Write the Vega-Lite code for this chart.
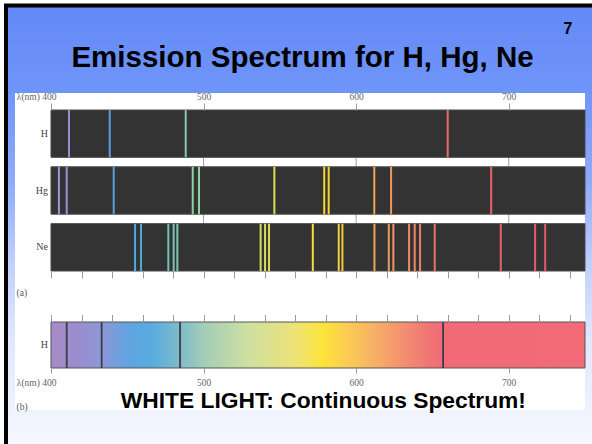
{
  "$schema": "https://vega.github.io/schema/vega-lite/v6.json",
  "width": 586,
  "height": 438.5,
  "padding": {"left": 6, "top": 5.5, "right": 0, "bottom": 0},
  "autosize": {"type": "none"},
  "background": "white",
  "config": {
    "view": {
      "fill": {"gradient": "linear", "x1": 0, "y1": 0, "x2": 0, "y2": 1,
        "stops": [
          {"offset": 0, "color": "#6389f7"},
          {"offset": 0.2, "color": "#7095f9"},
          {"offset": 0.4, "color": "#8eaafb"},
          {"offset": 0.6, "color": "#c3d1fc"},
          {"offset": 0.75, "color": "#dfe7fe"},
          {"offset": 1, "color": "#f6f8ff"}
        ]},
      "stroke": "black",
      "strokeWidth": 4,
      "strokeDash": [586, 1024.5, 438.5]
    },
    "axis": {
      "zindex": 1,
      "grid": false,
      "domain": false,
      "labelFont": "Liberation Serif",
      "labelFontSize": 9.5,
      "labelColor": "#666666",
      "tickColor": "#9a9a9a",
      "tickWidth": 1,
      "labelFlush": false,
      "labelOverlap": false,
      "titleAngle": 0
    }
  },
  "datasets": {
    "linesA": [
      {"element": "H", "nm": 411.8}, {"element": "H", "nm": 438.5}, {"element": "H", "nm": 488.3}, {"element": "H", "nm": 660.0},
      {"element": "Hg", "nm": 405.2}, {"element": "Hg", "nm": 410.3}, {"element": "Hg", "nm": 441.1}, {"element": "Hg", "nm": 492.9},
      {"element": "Hg", "nm": 497.0}, {"element": "Hg", "nm": 546.4}, {"element": "Hg", "nm": 579.1}, {"element": "Hg", "nm": 582.0},
      {"element": "Hg", "nm": 611.9}, {"element": "Hg", "nm": 622.9}, {"element": "Hg", "nm": 688.5},
      {"element": "Ne", "nm": 455.1}, {"element": "Ne", "nm": 459.0}, {"element": "Ne", "nm": 476.9}, {"element": "Ne", "nm": 480.4},
      {"element": "Ne", "nm": 482.8}, {"element": "Ne", "nm": 537.4}, {"element": "Ne", "nm": 540.3}, {"element": "Ne", "nm": 542.9},
      {"element": "Ne", "nm": 571.6}, {"element": "Ne", "nm": 588.6}, {"element": "Ne", "nm": 591.0}, {"element": "Ne", "nm": 612.0},
      {"element": "Ne", "nm": 621.4}, {"element": "Ne", "nm": 624.4}, {"element": "Ne", "nm": 634.7}, {"element": "Ne", "nm": 638.4},
      {"element": "Ne", "nm": 641.9}, {"element": "Ne", "nm": 651.5}, {"element": "Ne", "nm": 694.8}, {"element": "Ne", "nm": 717.3},
      {"element": "Ne", "nm": 723.9}
    ],
    "linesB": [
      {"element": "H", "nm": 410.3}, {"element": "H", "nm": 433.2}, {"element": "H", "nm": 484.6}, {"element": "H", "nm": 657.0}
    ]
  },
  "layer": [
    {
      "data": {"values": [{"part": "panel"}]},
      "mark": {"type": "rect", "fill": "white"},
      "encoding": {
        "x": {"datum": 376.41, "type": "quantitative", "scale": {"domain": [370.506, 754.589], "nice": false, "zero": false},
          "axis": {
            "zindex": 2, "orient": "top", "offset": 0, "ticks": false, "labels": false, "domain": false,
            "title": "7", "titleFont": "Liberation Sans", "titleFontSize": 16, "titleFontWeight": "bold", "titleColor": "black",
            "titleX": 561.5, "titleY": 27.8, "titleAlign": "center", "titleBaseline": "alphabetic"
          }},
        "x2": {"datum": 750},
        "y": {"field": "part", "type": "nominal", "scale": {"range": [87.5, 404.5], "paddingInner": 0, "paddingOuter": 0}, "axis": null}
      }
    },
    {
      "layer": [
        {
          "data": {"values": [{"nm": 500}, {"nm": 600}, {"nm": 700}]},
          "mark": {"type": "rule", "color": "#a0a0a0", "strokeWidth": 1},
          "encoding": {
            "x": {"field": "nm", "type": "quantitative",
              "scale": {"domain": [370.506, 754.589], "nice": false, "zero": false},
              "axis": {
                "zindex": 2,
                "orient": "top", "offset": -104.5, "values": [400, 500, 600, 700], "tickSize": 7, "labelPadding": 2,
                "labelExpr": "datum.value == 400 ? 'λ(nm) 400' : datum.label",
                "labelAlign": {"condition": {"test": "datum.value == 400", "value": "right"}, "value": "center"},
                "labelOffset": {"condition": {"test": "datum.value == 400", "value": 5}, "value": 0},
                "title": "Emission Spectrum for H, Hg, Ne",
                "titleFont": "Liberation Sans", "titleFontSize": 29.5, "titleFontWeight": "bold", "titleColor": "black",
                "titleX": 296, "titleY": -44, "titleAlign": "center", "titleBaseline": "alphabetic"
              }},
            "y": {"datum": "H", "type": "nominal",
              "scale": {"domain": ["H", "Hg", "Ne"], "range": [104.5, 265.5], "paddingInner": 0.1667, "paddingOuter": 0},
              "axis": null},
            "y2": {"datum": "Ne"}
          }
        },
        {
          "data": {"values": [{"element": "H"}, {"element": "Hg"}, {"element": "Ne"}]},
          "mark": {"type": "rect", "fill": "#333333", "stroke": "#4a4a4a", "strokeWidth": 1},
          "encoding": {
            "x": {"datum": 400, "type": "quantitative",
              "scale": {"domain": [370.506, 754.589], "nice": false, "zero": false},
              "axis": {
                "zindex": 2,
                "orient": "bottom", "offset": -173, "values": [400, 420, 440, 460, 480, 500, 520, 540, 560, 580, 600, 620, 640, 660, 680, 700, 720, 740],
                "tickSize": 7, "labels": false,
                "title": "(a)", "titleX": 10, "titleY": 21, "titleAlign": "left", "titleBaseline": "middle",
                "titleFont": "Liberation Serif", "titleFontSize": 9.5, "titleFontWeight": "normal", "titleColor": "#555555"
              }},
            "x2": {"datum": 750},
            "y": {"field": "element", "type": "nominal", "axis": null}
          }
        },
        {
          "data": {"values": [{"element": "H"}, {"element": "Hg"}, {"element": "Ne"}]},
          "mark": {"type": "text", "align": "right", "baseline": "middle", "font": "Liberation Serif", "fontSize": 10, "color": "#444444"},
          "encoding": {
            "x": {"datum": 398, "type": "quantitative", "scale": {"domain": [370.506, 754.589], "nice": false, "zero": false}, "axis": null},
            "y": {"field": "element", "type": "nominal", "axis": null},
            "text": {"field": "element"}
          }
        },
        {
          "data": {"name": "linesA"},
          "mark": {"type": "rect", "strokeWidth": 2},
          "encoding": {
            "x": {"field": "nm", "type": "quantitative", "scale": {"domain": [370.506, 754.589], "nice": false, "zero": false}, "axis": null},
            "x2": {"field": "nm"},
            "y": {"field": "element", "type": "nominal", "axis": null},
            "stroke": {"field": "nm", "type": "quantitative", "legend": null,
              "scale": {
                "domain": [400, 415, 435, 460, 480, 495, 540, 575, 590, 612, 625, 640, 655, 700],
                "range": ["#a39be0", "#948dd0", "#5b9de0", "#4ea9d8", "#74c4b4", "#8fd39c", "#d7dc5c", "#f6df30", "#f4cc40", "#f0a255", "#ef9660", "#ee8468", "#ea6c6c", "#e8606a"],
                "interpolate": "rgb"
              }}
          }
        }
      ],
      "resolve": {"axis": {"x": "independent"}}
    },
    {
      "layer": [
        {
          "data": {"values": [{"element": "H"}]},
          "mark": {"type": "rect", "stroke": "#555555", "strokeWidth": 1,
            "fill": {"gradient": "linear", "x1": 0, "y1": 0, "x2": 1, "y2": 0,
              "stops": [
                {"offset": 0, "color": "#a88bc6"},
                {"offset": 0.043, "color": "#9c8ccc"},
                {"offset": 0.094, "color": "#8d97d8"},
                {"offset": 0.143, "color": "#62a4df"},
                {"offset": 0.186, "color": "#57abe0"},
                {"offset": 0.243, "color": "#80bcc9"},
                {"offset": 0.286, "color": "#a3cdb7"},
                {"offset": 0.371, "color": "#cfe0a0"},
                {"offset": 0.457, "color": "#eee278"},
                {"offset": 0.509, "color": "#fde43a"},
                {"offset": 0.557, "color": "#fbcb55"},
                {"offset": 0.606, "color": "#f7b066"},
                {"offset": 0.657, "color": "#f49171"},
                {"offset": 0.709, "color": "#f07475"},
                {"offset": 0.734, "color": "#f06b76"},
                {"offset": 1, "color": "#f26b77"}
              ]}},
          "encoding": {
            "x": {"datum": 400, "type": "quantitative",
              "scale": {"domain": [370.506, 754.589], "nice": false, "zero": false},
              "axis": {
                "zindex": 2,
                "orient": "top", "offset": -316.5, "values": [400, 420, 440, 460, 480, 500, 520, 540, 560, 580, 600, 620, 640, 660, 680, 700, 720, 740],
                "tickSize": 7.5, "labels": false,
                "title": "WHITE LIGHT: Continuous Spectrum!", "titleX": 316.8, "titleY": 85, "titleAlign": "center", "titleBaseline": "alphabetic",
                "titleFont": "Liberation Sans", "titleFontSize": 22.8, "titleFontWeight": "bold", "titleColor": "black"
              }},
            "x2": {"datum": 750},
            "y": {"field": "element", "type": "nominal",
              "scale": {"range": [316.5, 362.5], "paddingInner": 0, "paddingOuter": 0},
              "axis": null}
          }
        },
        {
          "data": {"values": [{"element": "H"}]},
          "mark": {"type": "text", "align": "right", "baseline": "middle", "font": "Liberation Serif", "fontSize": 10, "color": "#444444"},
          "encoding": {
            "x": {"datum": 398, "type": "quantitative", "scale": {"domain": [370.506, 754.589], "nice": false, "zero": false}, "axis": null},
            "y": {"field": "element", "type": "nominal", "axis": null},
            "text": {"field": "element"}
          }
        },
        {
          "data": {"name": "linesB"},
          "mark": {"type": "rect", "stroke": "#3d3d48", "strokeWidth": 1.8},
          "encoding": {
            "x": {"field": "nm", "type": "quantitative",
              "scale": {"domain": [370.506, 754.589], "nice": false, "zero": false},
              "axis": {
                "zindex": 2,
                "orient": "bottom", "offset": -76, "values": [400, 500, 600, 700], "tickSize": 5, "labelPadding": 4,
                "labelExpr": "datum.value == 400 ? 'λ(nm) 400' : datum.label",
                "labelAlign": {"condition": {"test": "datum.value == 400", "value": "right"}, "value": "center"},
                "labelOffset": {"condition": {"test": "datum.value == 400", "value": 5}, "value": 0},
                "title": "(b)", "titleX": 10, "titleY": 38.7, "titleAlign": "left", "titleBaseline": "middle",
                "titleFont": "Liberation Serif", "titleFontSize": 9.5, "titleFontWeight": "normal", "titleColor": "#555555"
              }},
            "x2": {"field": "nm"},
            "y": {"field": "element", "type": "nominal", "axis": null}
          }
        }
      ],
      "resolve": {"axis": {"x": "independent"}}
    }
  ],
  "resolve": {"scale": {"y": "independent"}, "axis": {"x": "independent", "y": "independent"}}
}
